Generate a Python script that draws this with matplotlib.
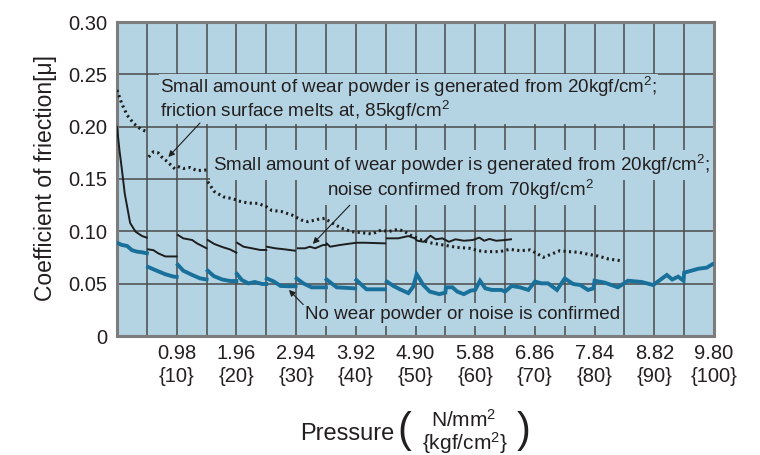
import numpy as np
import matplotlib
matplotlib.use("Agg")
import matplotlib.pyplot as plt
from matplotlib import font_manager as fm

# x in kgf/cm2 (0-100), mu = coefficient of friction; None breaks a line at a load step
no_wear = [(0, 0.089), (0.8, 0.087), (1.7, 0.086), (2.5, 0.082), (3.4, 0.0805), (4.2, 0.080), (5.0, 0.079), None,
           (5.2, 0.066), (6.4, 0.063), (8.1, 0.059), (9.5, 0.0567), (10.0, 0.0565), None,
           (10.2, 0.068), (11.1, 0.0624), (12.6, 0.0583), (13.9, 0.0551), (15.0, 0.054), None,
           (15.2, 0.0624), (16.2, 0.0573), (17.6, 0.054), (19.0, 0.0525), (20.0, 0.0525), None,
           (20.1, 0.0592), (20.9, 0.0535), (22.0, 0.0503), (23.1, 0.0516), (24.3, 0.0497), (25.0, 0.0497), None,
           (25.1, 0.055), (26.3, 0.052), (27.4, 0.0478), (28.8, 0.0475), (29.9, 0.0475), None,
           (30.1, 0.055), (31.2, 0.0503), (32.6, 0.0465), (35.0, 0.0465), None,
           (35.1, 0.054), (36.0, 0.050), (36.8, 0.0465), (39.9, 0.0455), None,
           (40.1, 0.0535), (41.0, 0.0487), (41.8, 0.0446), (44.9, 0.0446), None,
           (45.2, 0.052), (46.3, 0.0478), (47.4, 0.0446), (48.8, 0.041), (49.6, 0.047), (50.2, 0.059),
           (50.8, 0.0535), (51.3, 0.0487), (52.4, 0.0424), (54.0, 0.040), (55.0, 0.0414),
           (55.1, 0.0465), (56.2, 0.0465), (57.0, 0.0424), (58.1, 0.040), (59.2, 0.0433), (60.0, 0.044),
           (60.8, 0.0528), (61.7, 0.0455), (62.8, 0.044), (64.4, 0.044), (65.0, 0.0424), (66.1, 0.0478),
           (67.5, 0.0465), (68.9, 0.044), (70.0, 0.052), (71.1, 0.0503), (72.2, 0.0503), (73.7, 0.044),
           (75.0, 0.055), (76.4, 0.0497), (77.6, 0.0487), (78.9, 0.044), (79.8, 0.0455), (80.0, 0.0528),
           (81.7, 0.051), (83.9, 0.0465), (85.6, 0.0528), (87.9, 0.0516), (89.8, 0.0487), (92.1, 0.0583),
           (93.0, 0.054), (94.0, 0.0567), (94.9, 0.0528), (95.0, 0.0605), (97.4, 0.0643), (98.8, 0.0653),
           (99.7, 0.0685), (100.0, 0.069)]

noise_70 = [(0, 0.200), (0.4, 0.178), (0.8, 0.160), (1.3, 0.136), (2.2, 0.108), (3.1, 0.0997), (4.2, 0.0955), (5.0, 0.094), None,
            (5.2, 0.0828), (6.1, 0.082), (6.9, 0.079), (8.1, 0.076), (10.0, 0.076), None,
            (10.2, 0.0965), (11.1, 0.0933), (12.6, 0.0917), (13.4, 0.0885), (15.0, 0.0838), None,
            (15.2, 0.0917), (16.3, 0.0879), (17.8, 0.0847), (18.9, 0.0828), (20.0, 0.0796), None,
            (20.1, 0.0891), (21.2, 0.0853), (22.6, 0.0838), (24.0, 0.0822), (25.0, 0.0822), None,
            (25.1, 0.0853), (26.5, 0.0838), (28.1, 0.0828), (29.8, 0.0815), None,
            (30.3, 0.0838), (31.5, 0.0838), (32.3, 0.0853), (33.2, 0.0838), (34.5, 0.0869), (35.0, 0.087),
            (35.1, 0.0885), (35.7, 0.0853), (37.3, 0.0869), (39.3, 0.0885), (40.1, 0.0891), (41.6, 0.0891),
            (44.9, 0.0885), None,
            (45.2, 0.0933), (47.1, 0.0933), (48.8, 0.0955), (49.9, 0.0933), (50.3, 0.091), (51.4, 0.090),
            (52.5, 0.0958), (53.4, 0.0924), (54.5, 0.0933), (55.6, 0.090), (56.7, 0.0924), (58.1, 0.091),
            (59.6, 0.0917), (60.7, 0.094), (61.5, 0.091), (62.4, 0.0927), (63.5, 0.091), (65.0, 0.0917),
            (66.0, 0.0924)]

melt_85 = [(0, 0.235), (0.8, 0.222), (1.7, 0.211), (2.8, 0.203), (3.9, 0.198), (5.0, 0.195), None,
           (5.3, 0.171), (6.1, 0.176), (6.9, 0.175), (7.5, 0.171), (8.4, 0.1667), (10.0, 0.158), None,
           (10.2, 0.162), (11.1, 0.160), (12.2, 0.161), (13.4, 0.158), (15.0, 0.1586), None,
           (15.2, 0.1474), (16.3, 0.138), (17.8, 0.133), (19.1, 0.1315), (20.0, 0.130),
           (20.3, 0.129), (22.0, 0.127), (23.6, 0.1267), (25.0, 0.1236), (25.9, 0.120), (27.5, 0.119),
           (29.3, 0.1156), (30.9, 0.1108), (32.0, 0.1092), (33.7, 0.1115), (34.8, 0.1124), (35.9, 0.1083),
           (37.6, 0.103), (39.3, 0.0997), (41.0, 0.0987), (42.7, 0.0975), (44.3, 0.1013), (45.4, 0.0997),
           (47.1, 0.102), (48.2, 0.0997), (49.4, 0.0955), (51.0, 0.0917), (52.4, 0.0891), (54.7, 0.0869),
           (56.9, 0.0847), (59.1, 0.0838), (60.5, 0.0815), (61.9, 0.0806), (64.1, 0.0806), (65.8, 0.0828),
           (67.5, 0.0815), (69.2, 0.0822), (70.3, 0.079), (71.4, 0.0752), (72.8, 0.0783), (74.2, 0.0815),
           (75.6, 0.0806), (77.3, 0.080), (79.0, 0.078), (80.6, 0.0764), (82.3, 0.0736), (84.3, 0.072)]

kgf_ticks = [10, 20, 30, 40, 50, 60, 70, 80, 90, 100]
nmm_labels = ["0.98", "1.96", "2.94", "3.92", "4.90", "5.88", "6.86", "7.84", "8.82", "9.80"]
mu_ticks = [0, 0.05, 0.10, 0.15, 0.20, 0.25, 0.30]
mu_labels = ["0", "0.05", "0.10", "0.15", "0.20", "0.25", "0.30"]


def to_xy(points):
    xs = [np.nan if p is None else p[0] for p in points]
    ys = [np.nan if p is None else p[1] for p in points]
    return np.array(xs), np.array(ys)


names = {f.name for f in fm.fontManager.ttflist}
base_font = "Liberation Sans" if "Liberation Sans" in names else "DejaVu Sans"
if "Liberation Sans Narrow" in names:
    narrow_font, ann_size = "Liberation Sans Narrow", 15
else:
    narrow_font, ann_size = base_font, 13.6

plt.rcParams["font.family"] = base_font
plt.rcParams["mathtext.fontset"] = "custom"
plt.rcParams["mathtext.rm"] = base_font
plt.rcParams["mathtext.default"] = "regular"
txt_color = "#231f20"
bg = "#b4d4e3"
sq = "$^{2}$"

fig = plt.figure(figsize=(7.6, 4.55), dpi=100)
ax = fig.add_axes([117 / 760, 1 - 336 / 455, 597 / 760, 314 / 455])
ax.set_facecolor(bg)
ax.set_xlim(0, 100)
ax.set_ylim(0, 0.30)

ax.set_xticks(kgf_ticks)
ax.set_xticklabels([f"{a}\n{{{b}}}" for a, b in zip(nmm_labels, kgf_ticks)], linespacing=1.25)
ax.set_xticks(np.arange(5, 100, 10), minor=True)
ax.set_yticks(mu_ticks)
ax.set_yticklabels(mu_labels)
ax.tick_params(which="both", length=0, labelsize=14.5, colors=txt_color)
ax.tick_params(axis="x", pad=6)
ax.tick_params(axis="y", pad=7)
ax.grid(which="both", color="#4a4a4a", lw=1.1)
ax.set_axisbelow(True)
for s in ax.spines.values():
    s.set_color("#7d7d7d")
    s.set_linewidth(2.2)

x, y = to_xy(no_wear)
ax.plot(x, y, color="#19709a", lw=2.8, zorder=4, solid_joinstyle="miter")
x, y = to_xy(noise_70)
ax.plot(x, y, color="#1e1e1e", lw=1.4, zorder=4)
x, y = to_xy(melt_85)
ax.plot(x, y, color="#1e1e1e", lw=2.2, ls=(0, (0.7, 1.1)), zorder=4)

box = dict(boxstyle="square,pad=0.15", fc=bg, ec="none")
ax.text(7.2, 0.2265, f"Small amount of wear powder is generated from 20kgf/cm{sq};\nfriction surface melts at, 85kgf/cm{sq}",
        ha="left", va="center", fontsize=ann_size, family=narrow_font, color=txt_color,
        linespacing=0.98, bbox=dict(boxstyle="square,pad=0.05", fc=bg, ec="none"), zorder=3)
ax.text(57.7, 0.1634, f"Small amount of wear powder is generated from 20kgf/cm{sq};",
        ha="center", va="center", fontsize=ann_size, family=narrow_font, color=txt_color, bbox=box, zorder=3)
ax.text(57.6, 0.1395, f"noise confirmed from 70kgf/cm{sq}",
        ha="center", va="center", fontsize=ann_size, family=narrow_font, color=txt_color, bbox=box, zorder=3)
ax.text(57.8, 0.0205, "No wear powder or noise is confirmed",
        ha="center", va="center", fontsize=ann_size, family=narrow_font, color=txt_color, bbox=box, zorder=3)

arrow = dict(arrowstyle="-|>", color="#1e1e1e", lw=0.8, mutation_scale=9, shrinkA=0, shrinkB=0)
ax.annotate("", xy=(8.6, 0.171), xytext=(13.9, 0.2035), arrowprops=arrow, zorder=5)
ax.annotate("", xy=(32.8, 0.088), xytext=(39.0, 0.125), arrowprops=arrow, zorder=5)
ax.annotate("", xy=(28.8, 0.044), xytext=(31.2, 0.030), arrowprops=arrow, zorder=5)


def fx(px):
    return px / 760


def fy(py):
    return 1 - py / 455


fig.text(fx(46), fy(178), "Coefficient of friection[μ]", rotation=90, ha="center", va="center",
         fontsize=16.5, color=txt_color)
fig.text(fx(394), fy(434), "Pressure", ha="right", va="center", fontsize=17, color=txt_color)
fig.text(fx(404), fy(431), "(", ha="center", va="center", fontsize=30, color=txt_color)
fig.text(fx(464), fy(420), f"N/mm{sq}", ha="center", va="center", fontsize=15, color=txt_color)
fig.text(fx(465), fy(443), f"{{kgf/cm{sq}}}", ha="center", va="center", fontsize=15, color=txt_color)
fig.text(fx(524), fy(431), ")", ha="center", va="center", fontsize=30, color=txt_color)

fig.savefig("out.png", dpi=100)
